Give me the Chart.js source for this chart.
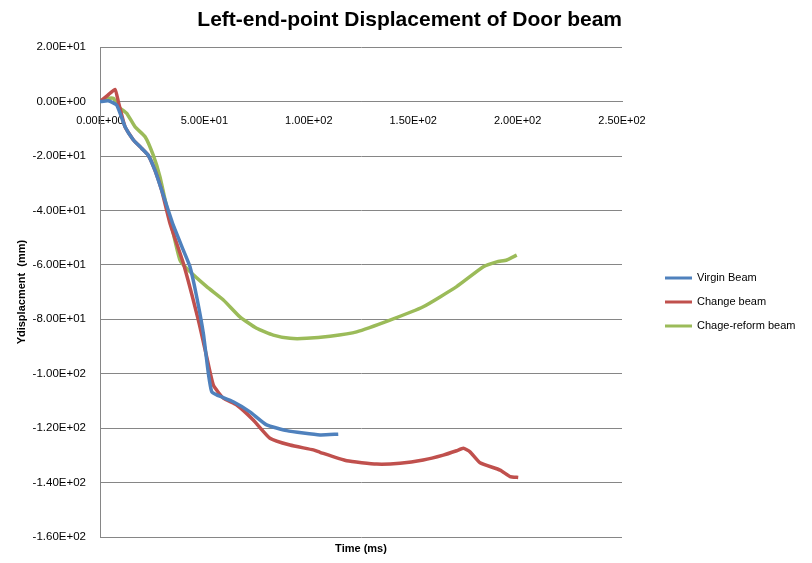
<!DOCTYPE html>
<html>
<head>
<meta charset="utf-8">
<script src="https://cdn.jsdelivr.net/npm/chart.js@4.4.1/dist/chart.umd.min.js"></script>
<style>
  html, body { margin: 0; padding: 0; background: #fff; }
  #wrap { width: 812px; height: 563px; position: relative; }
</style>
</head>
<body>
<div id="wrap"><canvas id="beamChart" width="812" height="563"></canvas></div>
<script>
// values (time in ms, displacement in mm)
const virginTime = [0, 4, 8, 12, 16, 20, 23.1, 26.3, 29.5, 31.1, 35.1, 39.9, 43.1, 46.3, 49.5, 51.9, 53.5, 55.9, 63.8, 71.8, 79.8, 89.4, 105.4, 114.1];
const virginDisp = [0, 0.3, -1.3, -9.2, -14.1, -17.2, -19.7, -25.2, -32.5, -36.2, -45.4, -54.6, -60.7, -71.7, -85.2, -99.9, -106.6, -107.8, -110.3, -114.0, -118.8, -120.9, -122.5, -122.2];

const changeTime = [0, 3.8, 7.2, 8.8, 12.0, 16.0, 20.0, 23.1, 26.3, 29.5, 33.5, 39.9, 47.1, 51.1, 54.3, 59.1, 65.5, 73.4, 81.4, 91.0, 102.2, 105.4, 118.2, 132.5, 143.7, 154.8, 164.4, 170.8, 174.0, 177.2, 182.0, 191.6, 196.4, 200.3];
const changeDisp = [0, 2.4, 4.5, -0.1, -9.3, -14.1, -17.2, -19.7, -25.2, -32.5, -44.7, -59.4, -80.3, -93.8, -104.2, -109.0, -111.5, -117.0, -123.7, -126.2, -128.0, -128.9, -132.0, -133.2, -132.9, -131.7, -129.9, -128.3, -127.4, -128.7, -132.7, -135.4, -137.8, -138.1];

const reformTime = [0, 2.4, 6.4, 8.8, 12.8, 16.8, 21.6, 25.5, 28.7, 31.9, 35.1, 38.3, 42.3, 51.1, 59.1, 67.0, 75.0, 83.0, 91.0, 99.0, 110.2, 122.9, 138.9, 154.8, 170.8, 183.6, 190.0, 194.8, 199.6];
const reformDisp = [0, 0.9, 1.2, -1.9, -4.3, -9.3, -12.9, -19.7, -27.6, -38.6, -48.4, -58.2, -61.9, -68.0, -72.9, -79.1, -83.3, -85.8, -87.0, -87.0, -86.2, -84.6, -80.3, -75.4, -68.0, -60.7, -58.9, -58.2, -56.4];

const seriesNames = ["Virgin Beam", "Change beam", "Chage-reform beam"];
const seriesColors = ["#4F81BD", "#C0504D", "#9BBB59"];

const xTicks = [0, 50, 100, 150, 200, 250];
const yTicks = [20, 0, -20, -40, -60, -80, -100, -120, -140, -160];

function toPoints(xs, ys) {
  return xs.map((x, i) => ({ x: x, y: ys[i] }));
}

// Excel style 0.00E+00
function sci(v) {
  if (v === 0) return "0.00E+00";
  const exp = Math.floor(Math.log10(Math.abs(v)));
  const man = v / Math.pow(10, exp);
  const sign = exp < 0 ? "-" : "+";
  return man.toFixed(2) + "E" + sign + String(Math.abs(exp)).padStart(2, "0");
}

const sideLegend = {
  id: "sideLegend",
  afterDraw(chart) {
    const ctx = chart.ctx;
    const x0 = chart.chartArea.right + 43;
    let y = 278;
    ctx.save();
    ctx.font = "11px 'Liberation Sans', Arial, sans-serif";
    ctx.textBaseline = "middle";
    chart.data.datasets.forEach(ds => {
      ctx.strokeStyle = ds.borderColor;
      ctx.lineWidth = 3;
      ctx.beginPath();
      ctx.moveTo(x0, y);
      ctx.lineTo(x0 + 27, y);
      ctx.stroke();
      ctx.fillStyle = "#000";
      ctx.fillText(ds.label, x0 + 32, y);
      y += 24;
    });
    ctx.restore();
  }
};

const gridGray = "#868686";
const datasets = [
  toPoints(virginTime, virginDisp),
  toPoints(changeTime, changeDisp),
  toPoints(reformTime, reformDisp)
].map((pts, i) => ({
  label: seriesNames[i],
  data: pts,
  showLine: true,
  borderColor: seriesColors[i],
  backgroundColor: seriesColors[i],
  borderWidth: 3.5,
  pointRadius: 0,
  tension: 0.15
}));

new Chart(document.getElementById("beamChart"), {
  type: "scatter",
  data: { datasets: datasets },
  plugins: [sideLegend],
  options: {
    responsive: false,
    animation: false,
    layout: { padding: { right: 190, left: 0, top: 0, bottom: 0 } },
    plugins: {
      legend: { display: false },
      tooltip: { enabled: false },
      title: {
        display: true,
        align: "end",
        text: "Left-end-point Displacement of Door beam",
        color: "#000",
        font: { family: "'Liberation Sans', Arial, sans-serif", size: 21, weight: "bold" },
        padding: { top: 8, bottom: 14 }
      }
    },
    scales: {
      x: {
        type: "linear",
        position: { y: 0 },
        min: 0, max: 250,
        afterBuildTicks: s => { s.ticks = xTicks.map(v => ({ value: v })); },
        grid: { display: false, drawTicks: false },
        border: { display: true, color: gridGray },
        ticks: {
          color: "#000",
          padding: 13,
          maxRotation: 0,
          font: { family: "'Liberation Sans', Arial, sans-serif", size: 11 },
          callback: v => sci(v)
        }
      },
      x2: {
        type: "linear",
        position: "bottom",
        grid: { display: false, drawTicks: false },
        border: { display: false },
        ticks: { display: false },
        title: {
          display: true,
          text: "Time (ms)",
          color: "#000",
          font: { family: "'Liberation Sans', Arial, sans-serif", size: 11, weight: "bold" },
          padding: { top: 1, bottom: 7 }
        },
        afterFit: s => { s.height = 26; }
      },
      y: {
        type: "linear",
        min: -160, max: 20,
        afterBuildTicks: s => { s.ticks = yTicks.map(v => ({ value: v })); },
        grid: { color: gridGray, drawTicks: false, lineWidth: 1 },
        border: { display: true, color: gridGray },
        ticks: {
          color: "#000",
          padding: 14,
          font: { family: "'Liberation Sans', Arial, sans-serif", size: 11.5 },
          callback: v => sci(v)
        },
        title: {
          display: true,
          text: "Ydisplacment  (mm)",
          color: "#000",
          font: { family: "'Liberation Sans', Arial, sans-serif", size: 11, weight: "bold" },
          padding: { top: 15, bottom: 0 }
        },
        afterFit: s => { s.width = 100; }
      }
    }
  }
});
</script>
</body>
</html>
